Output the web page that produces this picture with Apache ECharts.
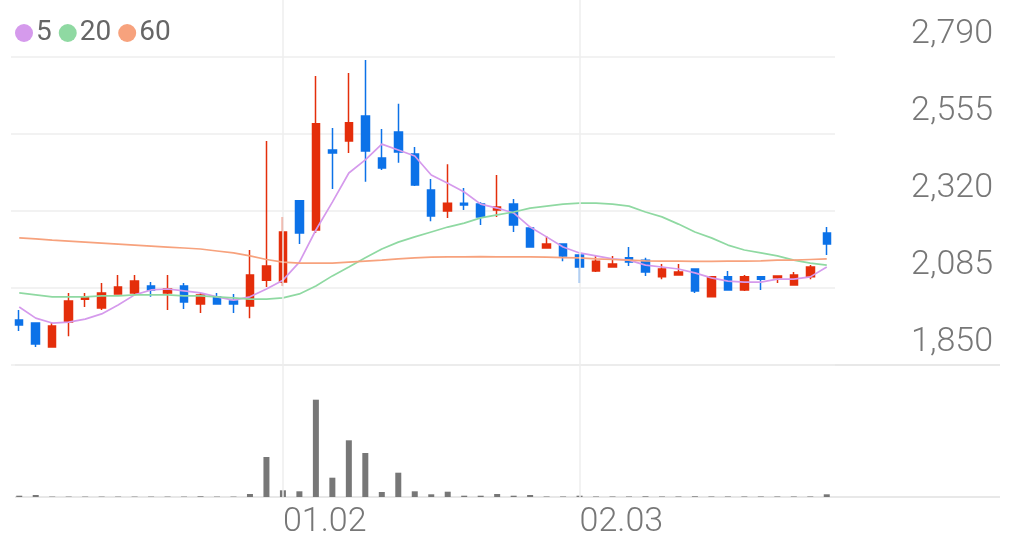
<!DOCTYPE html>
<html>
<head>
<meta charset="utf-8">
<script src="https://cdn.jsdelivr.net/npm/echarts@6/dist/echarts.min.js"></script>
<style>
html, body { margin: 0; padding: 0; background: #fff; }
#chartDiv { width: 1014px; height: 557px; }
</style>
</head>
<body>
<div id="chartDiv"></div>
<script>
// 数据集 (open, close, low, high)
const ohlc = [
    [1987, 1972, 1954, 2018], [1978, 1914, 1905, 1980], [1905, 1969, 1903, 1981], [1981, 2045, 1938, 2070],
    [2051, 2058, 2027, 2070], [2024, 2070, 2018, 2100], [2067, 2088, 2067, 2125], [2070, 2106, 2067, 2125],
    [2091, 2079, 2058, 2103], [2070, 2082, 2018, 2125], [2091, 2042, 2021, 2100], [2036, 2064, 2009, 2070],
    [2058, 2036, 2036, 2070], [2045, 2036, 2009, 2067], [2030, 2125, 1993, 2201], [2109, 2152, 2088, 2534],
    [2103, 2256, 2091, 2302], [2351, 2253, 2219, 2351], [2262, 2586, 2253, 2732], [2506, 2497, 2387, 2573],
    [2534, 2589, 2497, 2741], [2610, 2503, 2409, 2781], [2482, 2451, 2445, 2570], [2561, 2500, 2467, 2647],
    [2494, 2399, 2396, 2515], [2384, 2305, 2289, 2418], [2320, 2344, 2299, 2463], [2344, 2338, 2323, 2390],
    [2341, 2302, 2277, 2347], [2323, 2332, 2302, 2430], [2341, 2277, 2256, 2357], [2268, 2210, 2210, 2268],
    [2207, 2219, 2207, 2244], [2219, 2183, 2167, 2219], [2186, 2149, 2100, 2186], [2137, 2167, 2134, 2183],
    [2149, 2158, 2149, 2183], [2177, 2164, 2152, 2210], [2170, 2134, 2122, 2177], [2119, 2143, 2112, 2158],
    [2125, 2134, 2125, 2158], [2143, 2076, 2070, 2143], [2058, 2119, 2058, 2122], [2119, 2079, 2079, 2137],
    [2079, 2119, 2076, 2125], [2119, 2112, 2079, 2119], [2116, 2122, 2100, 2122], [2094, 2125, 2094, 2134],
    [2119, 2149, 2112, 2155], [2253, 2219, 2186, 2271]
];
const ma5 = [2027, 1993, 1978, 1981, 1990, 2006, 2033, 2064, 2079, 2082, 2076, 2070, 2058, 2048, 2058, 2082,
    2109, 2164, 2262, 2347, 2436, 2476, 2524, 2506, 2488, 2430, 2405, 2378, 2341, 2329, 2314, 2271,
    2241, 2210, 2192, 2183, 2174, 2170, 2155, 2149, 2143, 2131, 2116, 2106, 2103, 2103, 2112, 2112, 2119, 2149];
const ma20 = [2070, 2064, 2058, 2058, 2058, 2061, 2061, 2064, 2064, 2064, 2061, 2061, 2058, 2055, 2051, 2051,
    2055, 2067, 2091, 2122, 2149, 2177, 2204, 2225, 2241, 2256, 2271, 2283, 2299, 2308, 2317, 2329,
    2335, 2341, 2344, 2344, 2341, 2335, 2317, 2302, 2280, 2256, 2238, 2216, 2201, 2192, 2183, 2170, 2161, 2155];
const ma60 = [2238, 2235, 2231, 2228, 2225, 2222, 2219, 2216, 2213, 2210, 2207, 2204, 2198, 2192, 2183, 2172,
    2164, 2161, 2161, 2161, 2164, 2167, 2170, 2174, 2177, 2179, 2180, 2180, 2181, 2180, 2180, 2180,
    2179, 2178, 2177, 2174, 2172, 2170, 2168, 2167, 2167, 2166, 2166, 2167, 2167, 2168, 2170, 2170, 2172, 2174];
const volume = [13, 20, 4, 4, 4, 4, 4, 4, 4, 4, 4, 7, 4, 4, 30, 400, 67, 57, 973, 193, 567, 440, 50, 243, 57,
    27, 53, 13, 13, 30, 13, 20, 5, 5, 13, 5, 5, 5, 7, 5, 5, 7, 5, 5, 5, 5, 5, 5, 5, 27];

// 坐标轴
const priceTicks = [1850, 2085, 2320, 2555, 2790];
const labelIdx = [16, 34];
const labelText = ['01.02', '02.03'];
const categories = ohlc.map((d, i) => 'd' + i);

const up = '#e42e0b', down = '#0c72e8';
const gridColor = '#eeeeee';
const labelFont = { fontFamily: 'Roboto', fontSize: 34, fontWeight: 300, color: '#777' };

let myChart = echarts.init(document.getElementById('chartDiv'));
window.onresize = myChart.resize;

function maSeries(name, data, color) {
    return {
        name: name,
        type: 'line',
        data: data,
        xAxisIndex: 0,
        yAxisIndex: 0,
        symbol: 'none',
        z: 3,
        color: color,
        lineStyle: { width: 1.7, color: color }
    };
}

let option = {
    animation: false,
    backgroundColor: '#fff',
    textStyle: { fontFamily: 'Roboto' },
    legend: {
        data: ['5', '20', '60'],
        icon: 'circle',
        left: 10,
        top: 14,
        itemWidth: 18,
        itemHeight: 18,
        itemGap: 7,
        textStyle: { fontSize: 28, color: '#666', padding: [0, 0, 0, -2] }
    },
    grid: [
        { left: 11, right: 179, top: 57, bottom: 192 },
        { left: 11, right: 179, top: 397, bottom: 60 },
        { left: 11, right: 179, top: 0, bottom: 60 }
    ],
    xAxis: [
        { type: 'category', gridIndex: 0, data: categories, axisLine: { show: false }, axisTick: { show: false }, axisLabel: { show: false } },
        { type: 'category', gridIndex: 1, data: categories, axisLine: { show: false }, axisTick: { show: false }, axisLabel: { show: false } },
        {
            type: 'category', gridIndex: 2, data: categories,
            axisLine: { show: false }, axisTick: { show: false },
            axisLabel: Object.assign({
                interval: (i) => labelIdx.indexOf(i) >= 0,
                formatter: (v, i) => labelText[labelIdx.indexOf(i)] || '',
                align: 'left',
                margin: 8,
                hideOverlap: false
            }, labelFont)
        }
    ],
    yAxis: [
        {
            type: 'value', gridIndex: 0, position: 'right',
            min: priceTicks[0], max: priceTicks[priceTicks.length - 1], interval: 235,
            axisLine: { show: false }, axisTick: { show: false },
            splitLine: { lineStyle: { color: gridColor, width: 1.5 } },
            axisLabel: Object.assign({
                formatter: (v) => v.toLocaleString('en-US'),
                align: 'right',
                verticalAlign: 'bottom',
                margin: 158,
                padding: [0, 0, 6, 0]
            }, labelFont)
        },
        { type: 'value', gridIndex: 1, min: 0, max: 1000, show: false },
        { type: 'value', gridIndex: 2, min: 0, max: 1, show: false }
    ],
    graphic: [
        { type: 'line', shape: { x1: 15, y1: 365, x2: 1000, y2: 365 }, style: { stroke: '#e8e8e8', lineWidth: 2 }, z: 0 },
        { type: 'line', shape: { x1: 15, y1: 497, x2: 1000, y2: 497 }, style: { stroke: '#e8e8e8', lineWidth: 2 }, z: 0 }
    ],
    series: [
        {
            type: 'line', xAxisIndex: 2, yAxisIndex: 2, z: 0,
            data: categories.map(() => '-'), symbol: 'none', silent: true,
            markLine: {
                silent: true, symbol: 'none', label: { show: false },
                lineStyle: { color: gridColor, width: 1.5, type: 'solid' },
                data: labelIdx.map((i) => ({ xAxis: i }))
            }
        },
        {
            type: 'candlestick', xAxisIndex: 0, yAxisIndex: 0, z: 2,
            data: ohlc, barWidth: 8,
            itemStyle: { color: up, color0: down, borderColor: up, borderColor0: down, borderWidth: 1.5 }
        },
        maSeries('5', ma5, '#d59aec'),
        maSeries('20', ma20, '#8fd9a2'),
        maSeries('60', ma60, '#f7a27d'),
        {
            type: 'bar', xAxisIndex: 1, yAxisIndex: 1,
            data: volume, barWidth: 6,
            itemStyle: { color: '#777777' }
        }
    ]
};
myChart.setOption(option);
</script>
</body>
</html>
